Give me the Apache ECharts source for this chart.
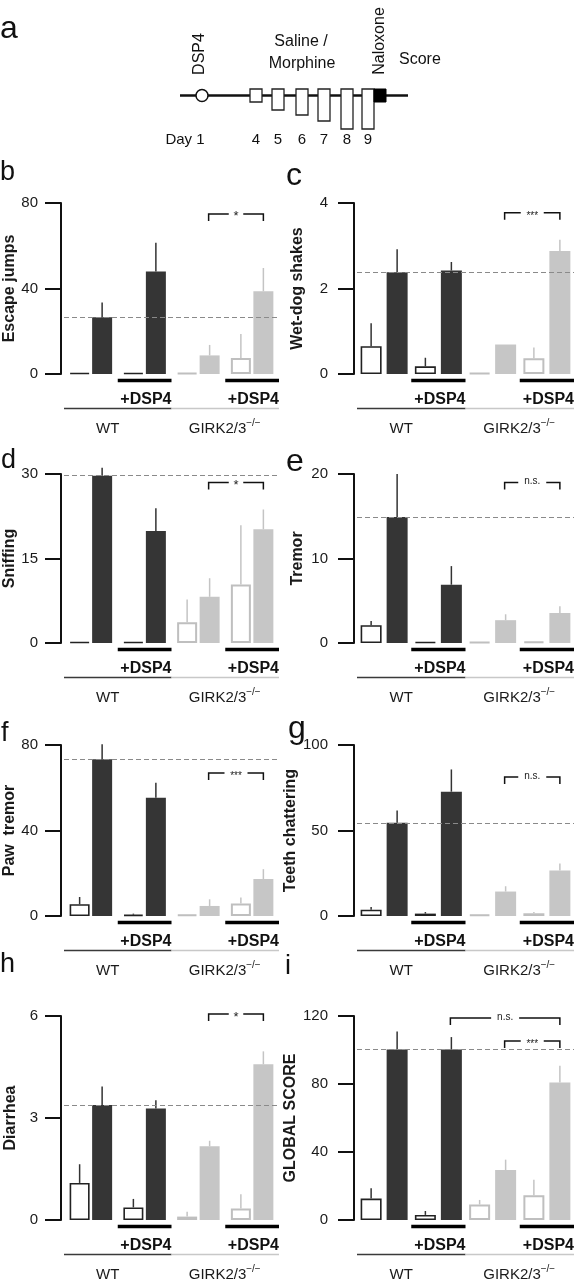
<!DOCTYPE html>
<html><head><meta charset="utf-8">
<script src="https://cdn.jsdelivr.net/npm/echarts@6/dist/echarts.min.js"></script>
<style>html,body{margin:0;padding:0;background:#fff}#c{width:574px;height:1280px}</style>
</head><body><div id="c"></div>
<script>
const groups = ['WT', 'WT +DSP4', 'GIRK2/3-/-', 'GIRK2/3-/- +DSP4'];

// b Escape jumps
const escapeSaline = [0, 0, 0, 7.5];
const escapeSalineErr = [0, 0, 0, 11.2];
const escapeMorphine = [26.5, 47.9, 8.7, 38.7];
const escapeMorphineErr = [6.9, 13.5, 4.9, 10.9];
const escapeSig = [[2, 3, 74.9, '*']];
// c Wet-dog shakes
const wetdogSaline = [0.65, 0.18, 0, 0.37];
const wetdogSalineErr = [0.54, 0.2, 0, 0.25];
const wetdogMorphine = [2.38, 2.42, 0.69, 2.88];
const wetdogMorphineErr = [0.54, 0.2, 0, 0.26];
const wetdogSig = [[2, 3, 3.77, '***']];
// d Sniffing
const sniffSaline = [0, 0, 3.7, 10.4];
const sniffSalineErr = [0, 0, 4.0, 10.5];
const sniffMorphine = [29.7, 19.9, 8.2, 20.2];
const sniffMorphineErr = [1.4, 4.0, 3.3, 3.5];
const sniffSig = [[2, 3, 28.5, '*']];
// e Tremor
const tremorSaline = [2.1, 0.1, 0, 0.2];
const tremorSalineErr = [0.5, 0, 0, 0];
const tremorMorphine = [14.9, 6.9, 2.7, 3.55];
const tremorMorphineErr = [5.1, 2.2, 0.7, 0.8];
const tremorSig = [[2, 3, 19.0, 'n.s.']];
// f Paw tremor
const pawSaline = [5.5, 0.6, 0.6, 5.8];
const pawSalineErr = [3.4, 0.5, 0, 2.8];
const pawMorphine = [73.3, 55.3, 4.7, 17.3];
const pawMorphineErr = [7.0, 7.0, 3.1, 4.6];
const pawSig = [[2, 3, 66.9, '***']];
// g Teeth chattering
const teethSaline = [3.7, 1.4, 0.8, 1.6];
const teethSalineErr = [1.6, 0.9, 0, 0.7];
const teethMorphine = [54.5, 72.7, 14.3, 26.6];
const teethMorphineErr = [7.2, 13.0, 3.1, 4.1];
const teethSig = [[2, 3, 81.3, 'n.s.']];
// h Diarrhea
const diarrheaSaline = [1.09, 0.37, 0.10, 0.34];
const diarrheaSalineErr = [0.55, 0.25, 0.14, 0.42];
const diarrheaMorphine = [3.38, 3.28, 2.17, 4.58];
const diarrheaMorphineErr = [0.55, 0.24, 0.16, 0.38];
const diarrheaSig = [[2, 3, 6.06, '*']];
// i Global score
const globalSaline = [12.6, 3.0, 9.1, 14.6];
const globalSalineErr = [6.1, 2.3, 2.7, 9.1];
const globalMorphine = [100.3, 100.3, 29.4, 80.9];
const globalMorphineErr = [10.6, 7.3, 6.1, 9.9];
const globalSig = [[1, 3, 118.8, 'n.s.'], [2, 3, 105.3, '***']];

const axisNames = ['Escape jumps', 'Wet-dog shakes', 'Sniffing', 'Tremor', 'Paw  tremor', 'Teeth chattering', 'Diarrhea', 'GLOBAL SCORE'];
const axisMax = [80, 4, 30, 20, 80, 100, 6, 120];
const axisStep = [40, 2, 15, 10, 40, 50, 3, 40];
const panelLetters = ['b', 'c', 'd', 'e', 'f', 'g', 'h', 'i'];

const timelineDays = ['4', '5', '6', '7', '8', '9'];

const FONT = '"Liberation Sans", Arial, Helvetica, sans-serif';
const DARK = '#353535', LIGHT = '#c6c6c6', DARK_LINE = '#222', LIGHT_LINE = '#bfbfbf';

const panels = [
  [escapeSaline, escapeSalineErr, escapeMorphine, escapeMorphineErr, escapeSig],
  [wetdogSaline, wetdogSalineErr, wetdogMorphine, wetdogMorphineErr, wetdogSig],
  [sniffSaline, sniffSalineErr, sniffMorphine, sniffMorphineErr, sniffSig],
  [tremorSaline, tremorSalineErr, tremorMorphine, tremorMorphineErr, tremorSig],
  [pawSaline, pawSalineErr, pawMorphine, pawMorphineErr, pawSig],
  [teethSaline, teethSalineErr, teethMorphine, teethMorphineErr, teethSig],
  [diarrheaSaline, diarrheaSalineErr, diarrheaMorphine, diarrheaMorphineErr, diarrheaSig],
  [globalSaline, globalSalineErr, globalMorphine, globalMorphineErr, globalSig]
];

const rowTop = [203, 474, 745, 1016];
const rowHeight = [171, 169, 171, 204];
const colLeft = [64, 357];
const colWidth = [215, 217];
const colBarWidth = [20, 21];
const colGapPx = [2.5, 5];
const colNameGap = [42, 48];
const colLabelMargin = [23, 26];

const grids = [], xAxes = [], yAxes = [], series = [];

panels.forEach((p, i) => {
  const col = i % 2, row = Math.floor(i / 2);
  const [sal, salErr, mor, morErr, sig] = p;
  const bw = colBarWidth[col], gap = colGapPx[col];
  const off = (bw + gap) / 2;
  grids.push({ left: colLeft[col], top: rowTop[row], width: colWidth[col], height: rowHeight[row] });
  xAxes.push({ type: 'category', gridIndex: i, data: groups, show: false });
  yAxes.push({
    type: 'value', gridIndex: i, min: 0, max: axisMax[i], interval: axisStep[i], offset: 3,
    name: axisNames[i], nameLocation: 'middle', nameGap: colNameGap[col],
    nameTextStyle: { fontFamily: FONT, fontWeight: 'bold', fontSize: 16, color: '#1a1a1a' },
    axisLine: { show: true, lineStyle: { color: '#111', width: 2 } },
    axisTick: { show: true, length: 16, lineStyle: { color: '#111', width: 2 } },
    axisLabel: { margin: colLabelMargin[col], fontFamily: FONT, fontSize: 15, color: '#1a1a1a' },
    splitLine: { show: false }
  });
  series.push({
    type: 'bar', name: 'Saline', xAxisIndex: i, yAxisIndex: i, barWidth: bw,
    barGap: (gap / bw * 100) + '%', barMinHeight: 1,
    data: sal.map((v, k) => ({ value: v, itemStyle: { color: '#fff', borderColor: k < 2 ? DARK_LINE : LIGHT_LINE, borderWidth: k < 2 ? 1.6 : 2 } }))
  });
  series.push({
    type: 'bar', name: 'Morphine', xAxisIndex: i, yAxisIndex: i, barWidth: bw,
    barGap: (gap / bw * 100) + '%', barMinHeight: 1,
    data: mor.map((v, k) => ({ value: v, itemStyle: { color: k < 2 ? DARK : LIGHT } })),
    markLine: {
      silent: true, symbol: ['none', 'none'], label: { show: false },
      lineStyle: { color: '#8a8a8a', type: [5, 3], width: 1 },
      emphasis: { disabled: true },
      data: [{ yAxis: mor[0] }]
    }
  });
  const errData = [];
  sal.forEach((v, k) => errData.push([k, v, salErr[k], 0]));
  mor.forEach((v, k) => errData.push([k, v, morErr[k], 1]));
  series.push({
    type: 'custom', xAxisIndex: i, yAxisIndex: i, clip: false, silent: true, z: 3,
    data: errData,
    renderItem: (params, api) => {
      const k = api.value(0), v = api.value(1), e = api.value(2), t = api.value(3);
      if (!(e > 0)) return null;
      const b = api.coord([k, v]), top = api.coord([k, v + e]);
      const x = b[0] + (t ? off : -off);
      return { type: 'line', shape: { x1: x, y1: b[1], x2: x, y2: top[1] },
        style: { stroke: k < 2 ? '#333' : '#c4c4c4', lineWidth: 1.5 } };
    }
  });
  series.push({
    type: 'custom', xAxisIndex: i, yAxisIndex: i, clip: false, silent: true, z: 4,
    data: [[0, 0]],
    renderItem: (params, api) => {
      const band = api.size([1, 0])[0];
      const y0 = api.coord([0, 0])[1];
      const cx = k => api.coord([k, 0])[0];
      const ch = [];
      [1, 3].forEach(k => {
        ch.push({ type: 'line', shape: { x1: cx(k) - band / 2, y1: y0 + 6.5, x2: cx(k) + band / 2, y2: y0 + 6.5 }, style: { stroke: '#000', lineWidth: 3.5 } });
        ch.push({ type: 'text', style: { text: '+DSP4', x: cx(k) + band / 2, y: y0 + 26, textAlign: 'right', textVerticalAlign: 'middle', font: 'bold 16px ' + FONT, fill: '#111' } });
      });
      ch.push({ type: 'line', shape: { x1: cx(0) - band / 2, y1: y0 + 34.5, x2: cx(1) + band / 2, y2: y0 + 34.5 }, style: { stroke: '#3a3a3a', lineWidth: 1.5 } });
      ch.push({ type: 'line', shape: { x1: cx(2) - band / 2, y1: y0 + 34.5, x2: cx(3) + band / 2, y2: y0 + 34.5 }, style: { stroke: '#c8c8c8', lineWidth: 1.5 } });
      const wtx = (cx(0) + cx(1)) / 2 - 10;
      ch.push({ type: 'text', style: { text: 'WT', x: wtx, y: y0 + 55, textAlign: 'center', textVerticalAlign: 'middle', font: '15px ' + FONT, fill: '#1a1a1a' } });
      const gx = (cx(2) + cx(3)) / 2 + 21;
      ch.push({ type: 'text', style: { text: 'GIRK2/3', x: gx, y: y0 + 55, textAlign: 'right', textVerticalAlign: 'middle', font: '15px ' + FONT, fill: '#1a1a1a' } });
      ch.push({ type: 'text', style: { text: '\u2212/\u2212', x: gx, y: y0 + 49, textAlign: 'left', textVerticalAlign: 'middle', font: '10px ' + FONT, fill: '#1a1a1a' } });
      sig.forEach(s => {
        const [a, b, val, label] = s;
        const x1 = cx(a) + off - 1, x2 = cx(b) + off;
        const yt = api.coord([0, val])[1];
        const mid = (x1 + x2) / 2;
        const fs = label === '*' ? 13 : 10;
        const half = (label.length * fs * 0.5 + 8) / 2;
        ch.push({ type: 'polyline', shape: { points: [[x1, yt + 7], [x1, yt], [mid - half, yt]] }, style: { stroke: '#111', lineWidth: 1.5, fill: null } });
        ch.push({ type: 'polyline', shape: { points: [[mid + half, yt], [x2, yt], [x2, yt + 7]] }, style: { stroke: '#111', lineWidth: 1.5, fill: null } });
        ch.push({ type: 'text', style: { text: label, x: mid, y: yt + (label === 'n.s.' ? -1 : 3), textAlign: 'center', textVerticalAlign: 'middle', font: fs + 'px ' + FONT, fill: '#222' } });
      });
      return { type: 'group', children: ch };
    }
  });
});

// panel letters
const letterPos = [[0, 173, 27], [286, 176, 32], [1, 461, 27], [286, 462, 32], [1, 734, 27], [288, 729, 32], [0, 965, 27], [285, 967, 27]];
const graphics = [];
graphics.push({ type: 'text', left: null, style: { text: 'a', x: 0, y: 29, font: '32px ' + FONT, fill: '#111', textVerticalAlign: 'middle' } });
panelLetters.forEach((l, i) => {
  const [x, y, s] = letterPos[i];
  graphics.push({ type: 'text', style: { text: l, x: x, y: y, font: s + 'px ' + FONT, fill: '#111', textVerticalAlign: 'middle' } });
});

// panel a timeline schematic
const tlY = 95.5;
graphics.push({ type: 'line', shape: { x1: 180, y1: tlY, x2: 408, y2: tlY }, style: { stroke: '#111', lineWidth: 2.5 }, z: 1 });
graphics.push({ type: 'circle', shape: { cx: 202, cy: tlY, r: 6 }, style: { fill: '#fff', stroke: '#111', lineWidth: 1.5 }, z: 2 });
const boxLeft = [250, 272, 296, 318, 341, 362];
const boxH = [13, 21, 26, 32, 40, 40];
timelineDays.forEach((d, k) => {
  graphics.push({ type: 'rect', shape: { x: boxLeft[k], y: 89, width: 12, height: boxH[k] }, style: { fill: '#fff', stroke: '#222', lineWidth: 1.3 }, z: 2 });
  graphics.push({ type: 'text', style: { text: d, x: boxLeft[k] + 6, y: 140, textAlign: 'center', textVerticalAlign: 'middle', font: '15px ' + FONT, fill: '#111' } });
});
graphics.push({ type: 'rect', shape: { x: 374, y: 89, width: 12, height: 13 }, style: { fill: '#000', stroke: '#000', lineWidth: 1 }, z: 2 });
graphics.push({ type: 'text', style: { text: 'Day 1', x: 185, y: 140, textAlign: 'center', textVerticalAlign: 'middle', font: '15px ' + FONT, fill: '#111' } });
graphics.push({ type: 'text', x: 200, y: 54, rotation: Math.PI / 2, style: { text: 'DSP4', x: 0, y: 0, textAlign: 'center', textVerticalAlign: 'middle', font: '16px ' + FONT, fill: '#111' } });
graphics.push({ type: 'text', x: 380, y: 41, rotation: Math.PI / 2, style: { text: 'Naloxone', x: 0, y: 0, textAlign: 'center', textVerticalAlign: 'middle', font: '16px ' + FONT, fill: '#111' } });
graphics.push({ type: 'text', style: { text: 'Saline /', x: 301, y: 42, textAlign: 'center', textVerticalAlign: 'middle', font: '16px ' + FONT, fill: '#111' } });
graphics.push({ type: 'text', style: { text: 'Morphine', x: 302, y: 64, textAlign: 'center', textVerticalAlign: 'middle', font: '16px ' + FONT, fill: '#111' } });
graphics.push({ type: 'text', style: { text: 'Score', x: 399, y: 60, textAlign: 'left', textVerticalAlign: 'middle', font: '16px ' + FONT, fill: '#111' } });

const chart = echarts.init(document.getElementById('c'), null, { renderer: 'canvas' });
chart.setOption({
  animation: false,
  backgroundColor: '#fff',
  grid: grids, xAxis: xAxes, yAxis: yAxes, series: series,
  graphic: graphics
});
</script></body></html>
